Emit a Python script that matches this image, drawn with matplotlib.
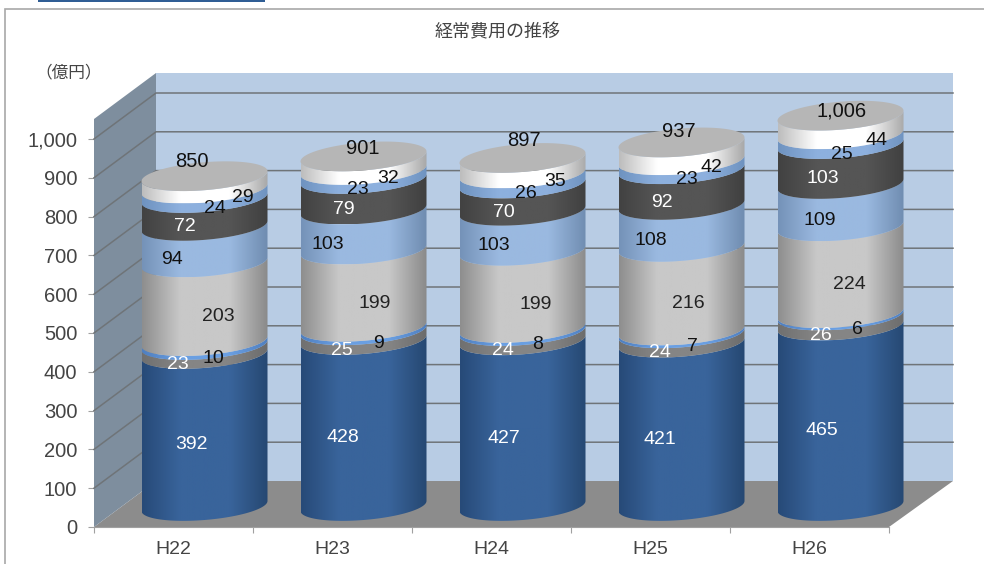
import numpy as np
import matplotlib
matplotlib.use("Agg")
import matplotlib.pyplot as plt
from matplotlib.colors import LinearSegmentedColormap
from matplotlib.patches import Polygon, PathPatch, Rectangle
from matplotlib.path import Path

plt.rcParams['font.family'] = ['Liberation Sans', 'Noto Sans CJK JP', 'DejaVu Sans']

years = ["H22", "H23", "H24", "H25", "H26"]
totals = [850, 901, 897, 937, 1006]
s1 = [392, 428, 427, 421, 465]
s2 = [23, 25, 24, 24, 26]
s3 = [10, 9, 8, 7, 6]
s4 = [203, 199, 199, 216, 224]
s5 = [94, 103, 103, 108, 109]
s6 = [72, 79, 70, 92, 103]
s7 = [24, 23, 26, 23, 25]
s8 = [29, 32, 35, 42, 44]
series = [s1, s2, s3, s4, s5, s6, s7, s8]
y_ticks = [0, 100, 200, 300, 400, 500, 600, 700, 800, 900, 1000]

# gradient across each cylinder: edge, middle, edge
shades = [("#274a78", "#39649b", "#264872"),
          ("#707070", "#858585", "#6c6c6c"),
          ("#4f7fc0", "#6a9fe2", "#4f7fc0"),
          ("#8e8e8e", "#c8c8c8", "#8a8a8a"),
          ("#7592b8", "#9ab9e0", "#6f8cb0"),
          ("#424242", "#555555", "#404040"),
          ("#6f93c0", "#8db0de", "#6f93c0"),
          ("#bdbdbd", "#ffffff", "#a8a8a8")]
txt_col = ["white", "white", "#111111", "#222222", "#111111", "white", "#111111", "#111111"]

# label shift from segment middle, pixels
lab_dx = [[-13, -21, -19, -22, -19],
          [-27, -22, -20, -22, -20],
          [9, 15, 15, 11, 17],
          [14, 11, 13, 7, 9],
          [-33, -36, -29, -31, -21],
          [-20, -20, -19, -20, -18],
          [10, -6, 3, 5, 1],
          [38, 25, 33, 30, 36]]
total_dx = [-13, -1, 1, -3, 1]
total_dy = [15, 8, 17, 11, 5]

W, H = 984, 564
X0, X1, Y0, YTOP = 94, 889, 527, 73     # plot box in pixels
PX_X = (X1 - X0) / 5     # pixels per category
PX_Y = 0.388             # pixels per value
DX = 62 / PX_X
DY = 46 / PX_Y
YMAX = (Y0 - YTOP) / PX_Y
WALL_R = 5 + 64 / PX_X

fig = plt.figure(figsize=(W / 100, H / 100), dpi=100)
ax = fig.add_axes([X0 / W, 1 - Y0 / H, (X1 - X0) / W, (Y0 - YTOP) / H])
ax.patch.set_visible(False)

# outer frame and the blue bar at the top
fig.add_artist(Rectangle((5 / W, -0.1), 1.1, 1.1 - 9 / H, transform=fig.transFigure,
                         fill=False, ec="#a8a8a8", lw=1.2))
fig.add_artist(Rectangle((38 / W, 1 - 2 / H), 227 / W, 2 / H, transform=fig.transFigure,
                         fc="#2f5d94", ec="none"))

# walls and floor
ax.add_patch(Polygon([(0, 0), (5, 0), (WALL_R, DY), (DX, DY)], fc="#8c8c8c", ec="none", zorder=1, clip_on=False))
ax.add_patch(Polygon([(0, 0), (DX, DY), (DX, YMAX), (0, YMAX - DY)], fc="#7e8e9e", ec="none", zorder=1, clip_on=False))
ax.add_patch(Polygon([(DX, DY), (WALL_R, DY), (WALL_R, YMAX), (DX, YMAX)], fc="#b8cce4", ec="none", zorder=1, clip_on=False))
for v in y_ticks[1:]:
    ax.plot([0, DX, WALL_R], [v, v + DY, v + DY], color="#6f7478", lw=1.1, zorder=2, clip_on=False)

# cylinders
A = 63 / PX_X
B = 14 / PX_Y
TILT = 5 / PX_Y
BASE = 21 / PX_Y
t = np.linspace(np.pi, 2 * np.pi, 60)


def arc(cx, v, tt):
    return cx + A * np.cos(tt), BASE + v + B * np.sin(tt) + TILT * np.cos(tt)


for i in range(len(years)):
    cx = i + 0.5 + DX / 2
    bottom = 0
    for k, vals in enumerate(series):
        top = bottom + vals[i]
        if k == len(series) - 1:
            top = totals[i]
        xb, yb = arc(cx, bottom, t)
        xt, yt = arc(cx, top, t)
        pts = np.vstack([np.column_stack([xb, yb]), np.column_stack([xt, yt])[::-1]])
        clip = PathPatch(Path(np.vstack([pts, pts[0]])), transform=ax.transData)
        cmap = LinearSegmentedColormap.from_list(
            "c", list(zip([0, 0.3, 0.7, 1], [shades[k][0], shades[k][1], shades[k][1], shades[k][2]])))
        im = ax.imshow(np.linspace(0, 1, 128).reshape(1, -1), cmap=cmap, aspect="auto",
                       extent=(cx - A, cx + A, yb.min(), yt.max() + 1), zorder=3)
        im.set_clip_box(fig.bbox)
        im.set_clip_path(clip)
        ax.annotate(str(vals[i]), (cx, BASE + (bottom + bottom + vals[i]) / 2),
                    xytext=(lab_dx[k][i], -15), textcoords="offset pixels",
                    ha="center", va="center", fontsize=14, color=txt_col[k],
                    zorder=6, annotation_clip=False)
        bottom += vals[i]
    xc, yc = arc(cx, totals[i], np.linspace(0, 2 * np.pi, 120))
    ax.add_patch(Polygon(np.column_stack([xc, yc]), fc="#b6b6b6", ec="none", zorder=4, clip_on=False))
    ax.annotate(f"{totals[i]:,}", (cx, BASE + totals[i]), xytext=(total_dx[i], total_dy[i]),
                textcoords="offset pixels", ha="center", va="center", fontsize=14.5,
                color="#111111", zorder=6, annotation_clip=False)

ax.set_xlim(0, 5)
ax.set_ylim(0, YMAX)

for side in ["top", "right", "left"]:
    ax.spines[side].set_visible(False)
ax.spines["bottom"].set_color("#a0a0a0")
ax.set_yticks(y_ticks)
ax.set_yticklabels([f"{v:,}" for v in y_ticks], fontsize=14.5, color="#444444")
ax.tick_params(axis="y", length=4, color="#a0a0a0", pad=8)
ax.set_xticks(range(6))
ax.set_xticklabels([])
ax.set_xticks(np.arange(5) + 0.5, years, minor=True, fontsize=14, color="#444444")
ax.tick_params(axis="x", which="major", length=4, color="#a0a0a0")
ax.tick_params(axis="x", which="minor", length=0, pad=10)

fig.text(498 / W, 1 - 32 / H, "経常費用の推移", ha="center", va="center", fontsize=13,
         color="#444444", family=['Noto Sans CJK JP', 'DejaVu Sans'])
fig.text(69 / W, 1 - 73 / H, "（億円）", ha="center", va="center", fontsize=12,
         color="#444444", family=['Noto Sans CJK JP', 'DejaVu Sans'])

fig.savefig("out.png", dpi=100)
